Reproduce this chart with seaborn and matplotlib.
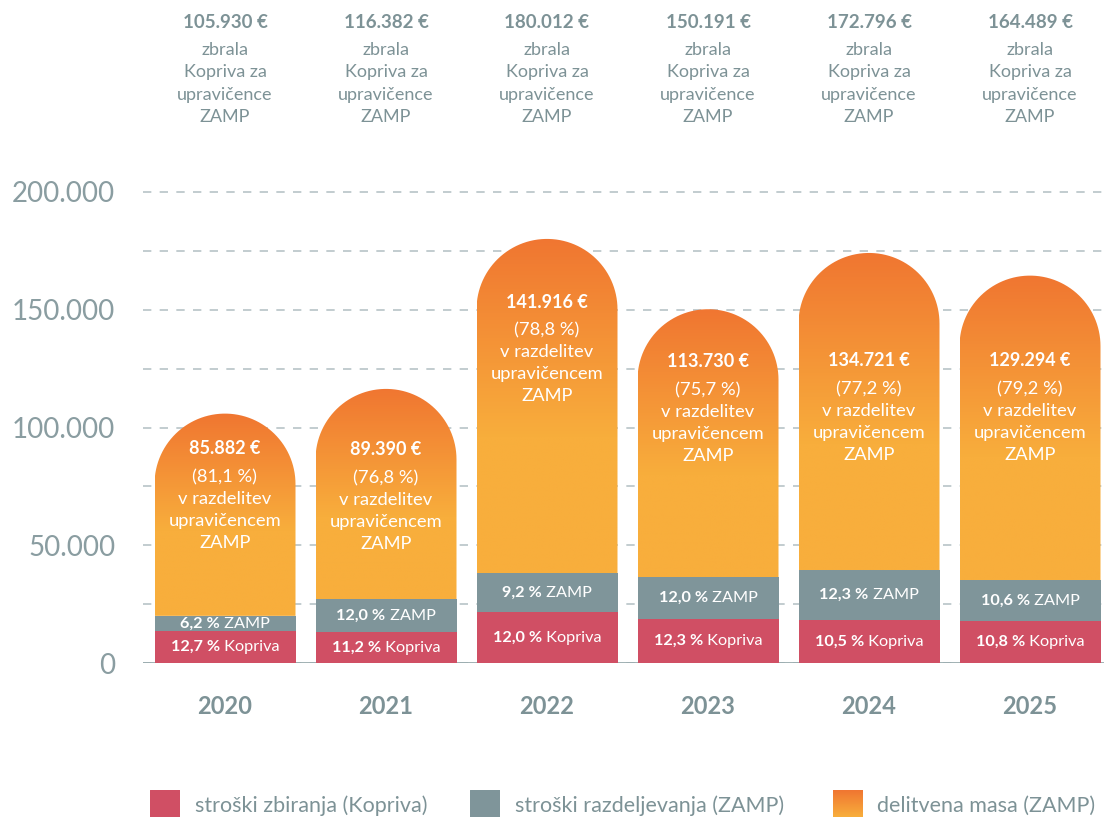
import numpy as np
import matplotlib
matplotlib.use('Agg')
import matplotlib.pyplot as plt
import matplotlib.transforms as mtransforms
from matplotlib.path import Path
from matplotlib.patches import PathPatch, Rectangle
from matplotlib.colors import LinearSegmentedColormap
import seaborn as sns

# ──────────────────────── Data ────────────────────────────────────────
YEARS       = ['2020', '2021', '2022', '2023', '2024', '2025']
TOTAL       = [105930, 116382, 180012, 150191, 172796, 164489]
KOPRIVA     = [13453, 13035, 21601, 18473, 18144, 17765]
ZAMP_COST   = [6568, 13966, 16561, 18023, 21254, 17436]
DELITVENA   = [85882, 89390, 141916, 113730, 134721, 129294]
KOPRIVA_PCT = ['12,7', '11,2', '12,0', '12,3', '10,5', '10,8']
ZAMP_PCT    = ['6,2', '12,0', '9,2', '12,0', '12,3', '10,6']
DELIT_PCT   = ['81,1', '76,8', '78,8', '75,7', '77,2', '79,2']
Y_TICKS     = [0, 50000, 100000, 150000, 200000]
Y_LABELS    = ['0', '50.000', '100.000', '150.000', '200.000']
LEGEND      = ['stroški zbiranja (Kopriva)', 'stroški razdeljevanja (ZAMP)',
               'delitvena masa (ZAMP)']

# ──────────────────────── Style / layout ──────────────────────────────
RED, GREY = '#D04F64', '#7F959A'
ORANGE, YELLOW = '#F07631', '#F8AE3C'
TXT = '#7D9296'
W, H = 1104, 817
PX_PER_UNIT = 0.002355          # pixels per €
AX_L, AX_B, AX_T = 143, 663, 180
SLOT, BAR_PX, X0_PX = 161, 141, 225
INNER_Y = [449, 450, 302, 362, 361, 361]   # pixel y of first in-bar line

sns.set_style('white')
plt.rcParams['font.family'] = ['Lato', 'DejaVu Sans']

fig = plt.figure(figsize=(W / 100, H / 100), dpi=100)
ax = fig.add_axes([AX_L / W, (H - AX_B) / H, (W - AX_L) / W, (AX_B - AX_T) / H])

bar_w = BAR_PX / SLOT
lower = [k + z for k, z in zip(KOPRIVA, ZAMP_COST)]
top = [l + d for l, d in zip(lower, DELITVENA)]

sns.barplot(x=YEARS, y=lower, color=GREY, width=bar_w, saturation=1,
            linewidth=0, ax=ax, zorder=2)
sns.barplot(x=YEARS, y=KOPRIVA, color=RED, width=bar_w, saturation=1,
            linewidth=0, ax=ax, zorder=2)

# orange part: gradient clipped by a rounded-top path
cmap = LinearSegmentedColormap.from_list('og', [YELLOW, ORANGE])
r_y = (BAR_PX / 2) / PX_PER_UNIT
for i in range(len(YEARS)):
    b, t = lower[i], top[i]
    xl, xr = i - bar_w / 2, i + bar_w / 2
    th = np.linspace(0, np.pi, 60)
    arc = np.column_stack([i + bar_w / 2 * np.cos(th), t - r_y + r_y * np.sin(th)])
    verts = np.vstack([[xl, b], [xr, b], arc, [xl, b]])
    codes = [Path.MOVETO] + [Path.LINETO] * (len(verts) - 2) + [Path.CLOSEPOLY]
    patch = PathPatch(Path(verts, codes), facecolor='none', edgecolor='none',
                      transform=ax.transData)
    ax.add_patch(patch)
    ys = np.linspace(b, t, 300)
    grad = np.clip((ys - 0.53 * t) / (0.47 * t), 0, 1)[:, None]
    im = ax.imshow(grad, cmap=cmap, vmin=0, vmax=1, origin='lower',
                   extent=[xl, xr, b, t], aspect='auto', zorder=2,
                   interpolation='bilinear')
    im.set_clip_path(patch)

# axes, grid
ax.set_xlim(-(X0_PX - AX_L) / SLOT, -(X0_PX - AX_L) / SLOT + (W - AX_L) / SLOT)
ax.set_ylim(0, (AX_B - AX_T) / PX_PER_UNIT)
ax.set_yticks(Y_TICKS)
ax.set_yticklabels(Y_LABELS, fontsize=20, color='#8A9DA1')
ax.set_yticks([25000, 75000, 125000, 175000], minor=True)
ax.tick_params(axis='y', which='both', length=0, pad=20)
ax.set_xticks([])
ax.set(xlabel='', ylabel='')
ax.grid(axis='y', which='both', color='#B7C4C7', linestyle=(0, (5, 5)),
        linewidth=1.2, zorder=0)
ax.grid(axis='x', visible=False)
ax.set_axisbelow(True)
ax.axhline(0, color='#9AABAE', lw=1.3, zorder=1.5)
sns.despine(ax=ax, left=True, bottom=True)

fig_y = lambda py: 1 - py / H
blend = mtransforms.blended_transform_factory(ax.transData, fig.transFigure)
fmt = lambda v: f'{v:,}'.replace(',', '.')

renderer = fig.canvas.get_renderer()


def two_part(xc, yc, bold, rest, size=11.7, color='white'):
    t1 = ax.text(xc, yc, bold, fontsize=size, fontweight='bold', color=color,
                 ha='left', va='center', zorder=4)
    t2 = ax.text(xc, yc, rest, fontsize=size, color=color,
                 ha='left', va='center', zorder=4)
    w1 = t1.get_window_extent(renderer).width
    w2 = t2.get_window_extent(renderer).width
    start = -(w1 + w2) / 2
    t1.set_transform(mtransforms.offset_copy(ax.transData, fig, x=start, units='dots'))
    t2.set_transform(mtransforms.offset_copy(ax.transData, fig, x=start + w1, units='dots'))


for i, yr in enumerate(YEARS):
    # header above the bar
    ax.text(i, fig_y(22), f'{fmt(TOTAL[i])} €', transform=blend, ha='center',
            va='center', fontsize=13.5, fontweight='bold', color=TXT)
    for j, line in enumerate(['zbrala', 'Kopriva za', 'upravičence', 'ZAMP']):
        ax.text(i, fig_y(50 + 22.3 * j), line, transform=blend, ha='center',
                va='center', fontsize=13, color=TXT)
    # year label
    ax.text(i, fig_y(706), yr, transform=blend, ha='center', va='center',
            fontsize=17, fontweight='bold', color=TXT)
    # labels inside the orange part
    y0 = INNER_Y[i]
    ax.text(i, fig_y(y0), f'{fmt(DELITVENA[i])} €', transform=blend,
            ha='center', va='center', fontsize=13, fontweight='bold',
            color='white', zorder=4)
    for j, line in enumerate([f'({DELIT_PCT[i]} %)', 'v razdelitev',
                              'upravičencem', 'ZAMP']):
        ax.text(i, fig_y(y0 + 28 + 22 * j), line, transform=blend,
                ha='center', va='center', fontsize=13.2, color='white', zorder=4)
    # segment labels
    two_part(i, KOPRIVA[i] / 2, f'{KOPRIVA_PCT[i]} %', ' Kopriva')
    two_part(i, KOPRIVA[i] + ZAMP_COST[i] / 2, f'{ZAMP_PCT[i]} %', ' ZAMP')

# ──────────────────────── Legend ──────────────────────────────────────
sw_x = [150, 470, 833]
tx_x = [195, 515, 877]
for k, label in enumerate(LEGEND):
    sax = fig.add_axes([sw_x[k] / W, 0, 30 / W, 27 / H])
    sax.set_axis_off()
    if k < 2:
        sax.add_patch(Rectangle((0, 0), 1, 1, color=[RED, GREY][k],
                                transform=sax.transAxes))
    else:
        sax.imshow(np.linspace(0, 1, 50)[:, None], cmap=cmap, origin='lower',
                   aspect='auto', extent=[0, 1, 0, 1])
    fig.text(tx_x[k] / W, fig_y(806), label, ha='left', va='center',
             fontsize=15.5, color=TXT)

fig.savefig('out.png', dpi=100)
plt.close(fig)
